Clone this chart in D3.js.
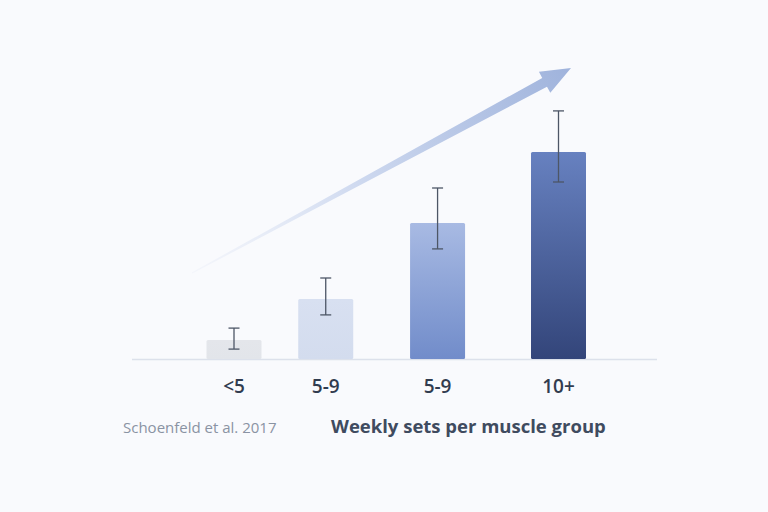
<!DOCTYPE html>
<html>
<head>
<meta charset="utf-8">
<script src="https://cdn.jsdelivr.net/npm/d3@7.9.0/dist/d3.min.js"></script>
<style>
  html, body { margin: 0; padding: 0; background: #f9fafd; }
  svg { display: block; }
  text { font-family: 'Open Sans', 'Noto Sans', sans-serif; }
</style>
</head>
<body>
<svg id="chart" width="768" height="512"></svg>
<script>
// data
const categories = ['<5', '5-9', '5-9', '10+'];
const values = [6.3, 20, 45.3, 69];
const errLow = [3.3, 14.7, 36.7, 59];
const errHigh = [10.3, 27, 57, 82.7];
const source = 'Schoenfeld et al. 2017';
const axisTitle = 'Weekly sets per muscle group';

const svg = d3.select('#chart');
const barWidth = 55;
const baseY = 359;

// bars drift slightly further apart to the right
const x = d3.scalePow().exponent(1.15).domain([0, categories.length - 1]).range([234, 558.5]);
const y = d3.scaleLinear().domain([0, 100]).range([baseY, 59]);

const defs = svg.append('defs');
const fills = [
  ['#e4e6eb', '#e2e5ea'],
  ['#d8e0f1', '#d3dcee'],
  ['#a8bae3', '#718cca'],
  ['#6781c0', '#33457a'],
];
fills.forEach(([top, bottom], i) => {
  const g = defs.append('linearGradient')
    .attr('id', `bar${i}`)
    .attr('x1', 0).attr('y1', 0).attr('x2', 0).attr('y2', 1);
  g.append('stop').attr('offset', '0%').attr('stop-color', top);
  g.append('stop').attr('offset', '100%').attr('stop-color', bottom);
});

const arrowGrad = defs.append('linearGradient')
  .attr('id', 'arrowGrad')
  .attr('gradientUnits', 'userSpaceOnUse')
  .attr('x1', 192).attr('y1', 273).attr('x2', 571).attr('y2', 68);
arrowGrad.append('stop').attr('offset', '0%').attr('stop-color', '#eef1f9').attr('stop-opacity', 0.5);
arrowGrad.append('stop').attr('offset', '45%').attr('stop-color', '#cdd8ef');
arrowGrad.append('stop').attr('offset', '100%').attr('stop-color', '#9fb3dc');

// trend arrow
const start = [192, 273];
const tip = [571, 68];
const dx = tip[0] - start[0];
const dy = tip[1] - start[1];
const len = Math.hypot(dx, dy);
const ux = dx / len, uy = dy / len;
const nx = -uy, ny = ux;
const headLen = 30, headHalf = 12, shaftEnd = 5;
const hb = [tip[0] - ux * headLen, tip[1] - uy * headLen];
const arrowPts = [
  [start[0] + nx * 0.6, start[1] + ny * 0.6],
  [hb[0] + nx * shaftEnd, hb[1] + ny * shaftEnd],
  [hb[0] + nx * headHalf, hb[1] + ny * headHalf],
  tip,
  [hb[0] - nx * headHalf, hb[1] - ny * headHalf],
  [hb[0] - nx * shaftEnd, hb[1] - ny * shaftEnd],
  [start[0] - nx * 0.6, start[1] - ny * 0.6],
];
svg.append('path')
  .attr('d', d3.line()(arrowPts) + 'Z')
  .attr('fill', 'url(#arrowGrad)');

// baseline
svg.append('line')
  .attr('x1', 132).attr('x2', 657)
  .attr('y1', baseY + 0.5).attr('y2', baseY + 0.5)
  .attr('stroke', '#dce1eb')
  .attr('stroke-width', 1.5);

// bars
svg.selectAll('rect.bar')
  .data(values)
  .join('rect')
  .attr('class', 'bar')
  .attr('x', (d, i) => x(i) - barWidth / 2)
  .attr('y', (d) => y(d))
  .attr('width', barWidth)
  .attr('height', (d) => y(0) - y(d))
  .attr('rx', 1.5)
  .attr('fill', (d, i) => `url(#bar${i})`);

// error bars
const err = svg.append('g')
  .attr('stroke', '#4d5666')
  .attr('stroke-width', 1.3)
  .attr('fill', 'none');
values.forEach((d, i) => {
  const cx = x(i);
  err.append('line').attr('x1', cx).attr('x2', cx).attr('y1', y(errHigh[i])).attr('y2', y(errLow[i]));
  err.append('line').attr('x1', cx - 5.5).attr('x2', cx + 5.5).attr('y1', y(errHigh[i])).attr('y2', y(errHigh[i]));
  err.append('line').attr('x1', cx - 5.5).attr('x2', cx + 5.5).attr('y1', y(errLow[i])).attr('y2', y(errLow[i]));
});

// category labels
svg.selectAll('text.cat')
  .data(categories)
  .join('text')
  .attr('class', 'cat')
  .attr('x', (d, i) => x(i))
  .attr('y', 393)
  .attr('text-anchor', 'middle')
  .attr('font-size', 19)
  .attr('font-weight', 600)
  .attr('fill', '#313c4f')
  .text((d) => d);

svg.append('text')
  .attr('x', 123)
  .attr('y', 433)
  .attr('font-size', 15)
  .attr('fill', '#8a93a3')
  .text(source);

svg.append('text')
  .attr('x', 331)
  .attr('y', 433)
  .attr('font-size', 18.5)
  .attr('font-weight', 700)
  .attr('fill', '#3f4b5f')
  .text(axisTitle);
</script>
</body>
</html>
